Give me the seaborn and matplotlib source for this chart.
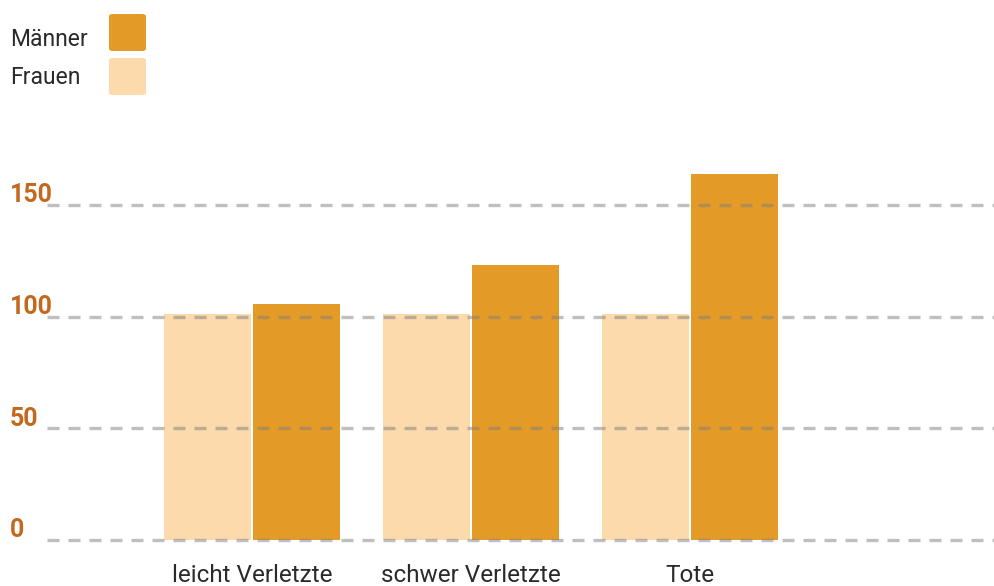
import matplotlib
matplotlib.use("Agg")
import matplotlib.pyplot as plt
import seaborn as sns
import pandas as pd
from matplotlib.patches import FancyBboxPatch
import matplotlib.transforms as mtransforms

categories = ["leicht Verletzte", "schwer Verletzte", "Tote"]
frauen = [101, 101, 101]
maenner = [105.5, 123, 164]
series = ["Frauen", "Männer"]
yticks = [0, 50, 100, 150]
colors = {"Frauen": "#FCDAAB", "Männer": "#E49A26"}

df = pd.DataFrame({
    "cat": categories * 2,
    "val": frauen + maenner,
    "ser": ["Frauen"] * 3 + ["Männer"] * 3,
})

sns.set_theme(style="white")
plt.rcParams["font.family"] = ["Roboto", "DejaVu Sans"]

W, H = 995, 586
fig = plt.figure(figsize=(W / 100, H / 100), dpi=100)
ax = fig.add_axes([47 / W, (H - 540) / H, 1 - 47 / W, (540 - 150) / H])

sns.barplot(data=df, x="cat", y="val", hue="ser", hue_order=series,
            palette=colors, width=0.815, gap=0.03, ax=ax, legend=False,
            saturation=1, linewidth=0, zorder=1)

ax.set_ylim(0, 390 / (335 / 150))
ax.set_xlim((47 - 252) / 219, (995 - 252) / 219)
for s in ax.spines.values():
    s.set_visible(False)
ax.set_xticks([])
ax.set_yticks([])
ax.set_xlabel("")
ax.set_ylabel("")

trans = mtransforms.blended_transform_factory(ax.transAxes, ax.transData)
for t in yticks:
    ax.axhline(t, color="#808080", alpha=0.5, lw=2.4, dashes=(3.6, 2.7),
               zorder=3, clip_on=False)
    ax.text(-37 / (W - 47), t + 1.2, str(t), transform=trans, ha="left",
            va="baseline", fontsize=18, fontweight="bold", color="#C2691E")

ctrans = mtransforms.blended_transform_factory(ax.transData, fig.transFigure)
for i, c in enumerate(categories):
    ax.text(i, 1 - 582 / H, c, transform=ctrans,
            ha="center", va="baseline", fontsize=17.5,
            color="#2a2a2a")

# legend
for lab, yc in [("Männer", 39), ("Frauen", 77)]:
    fig.text(10 / W, 1 - yc / H, lab, ha="left", va="center", fontsize=16.5,
             color="#2a2a2a")
    ytop = 14 if lab == "Männer" else 58
    p = FancyBboxPatch((109 / W, 1 - (ytop + 37) / H), 37 / W, 37 / H,
                       boxstyle="round,pad=0,rounding_size=0.004",
                       transform=fig.transFigure, facecolor=colors[lab],
                       edgecolor="none")
    fig.patches.append(p)

fig.savefig("out.png", dpi=100)
